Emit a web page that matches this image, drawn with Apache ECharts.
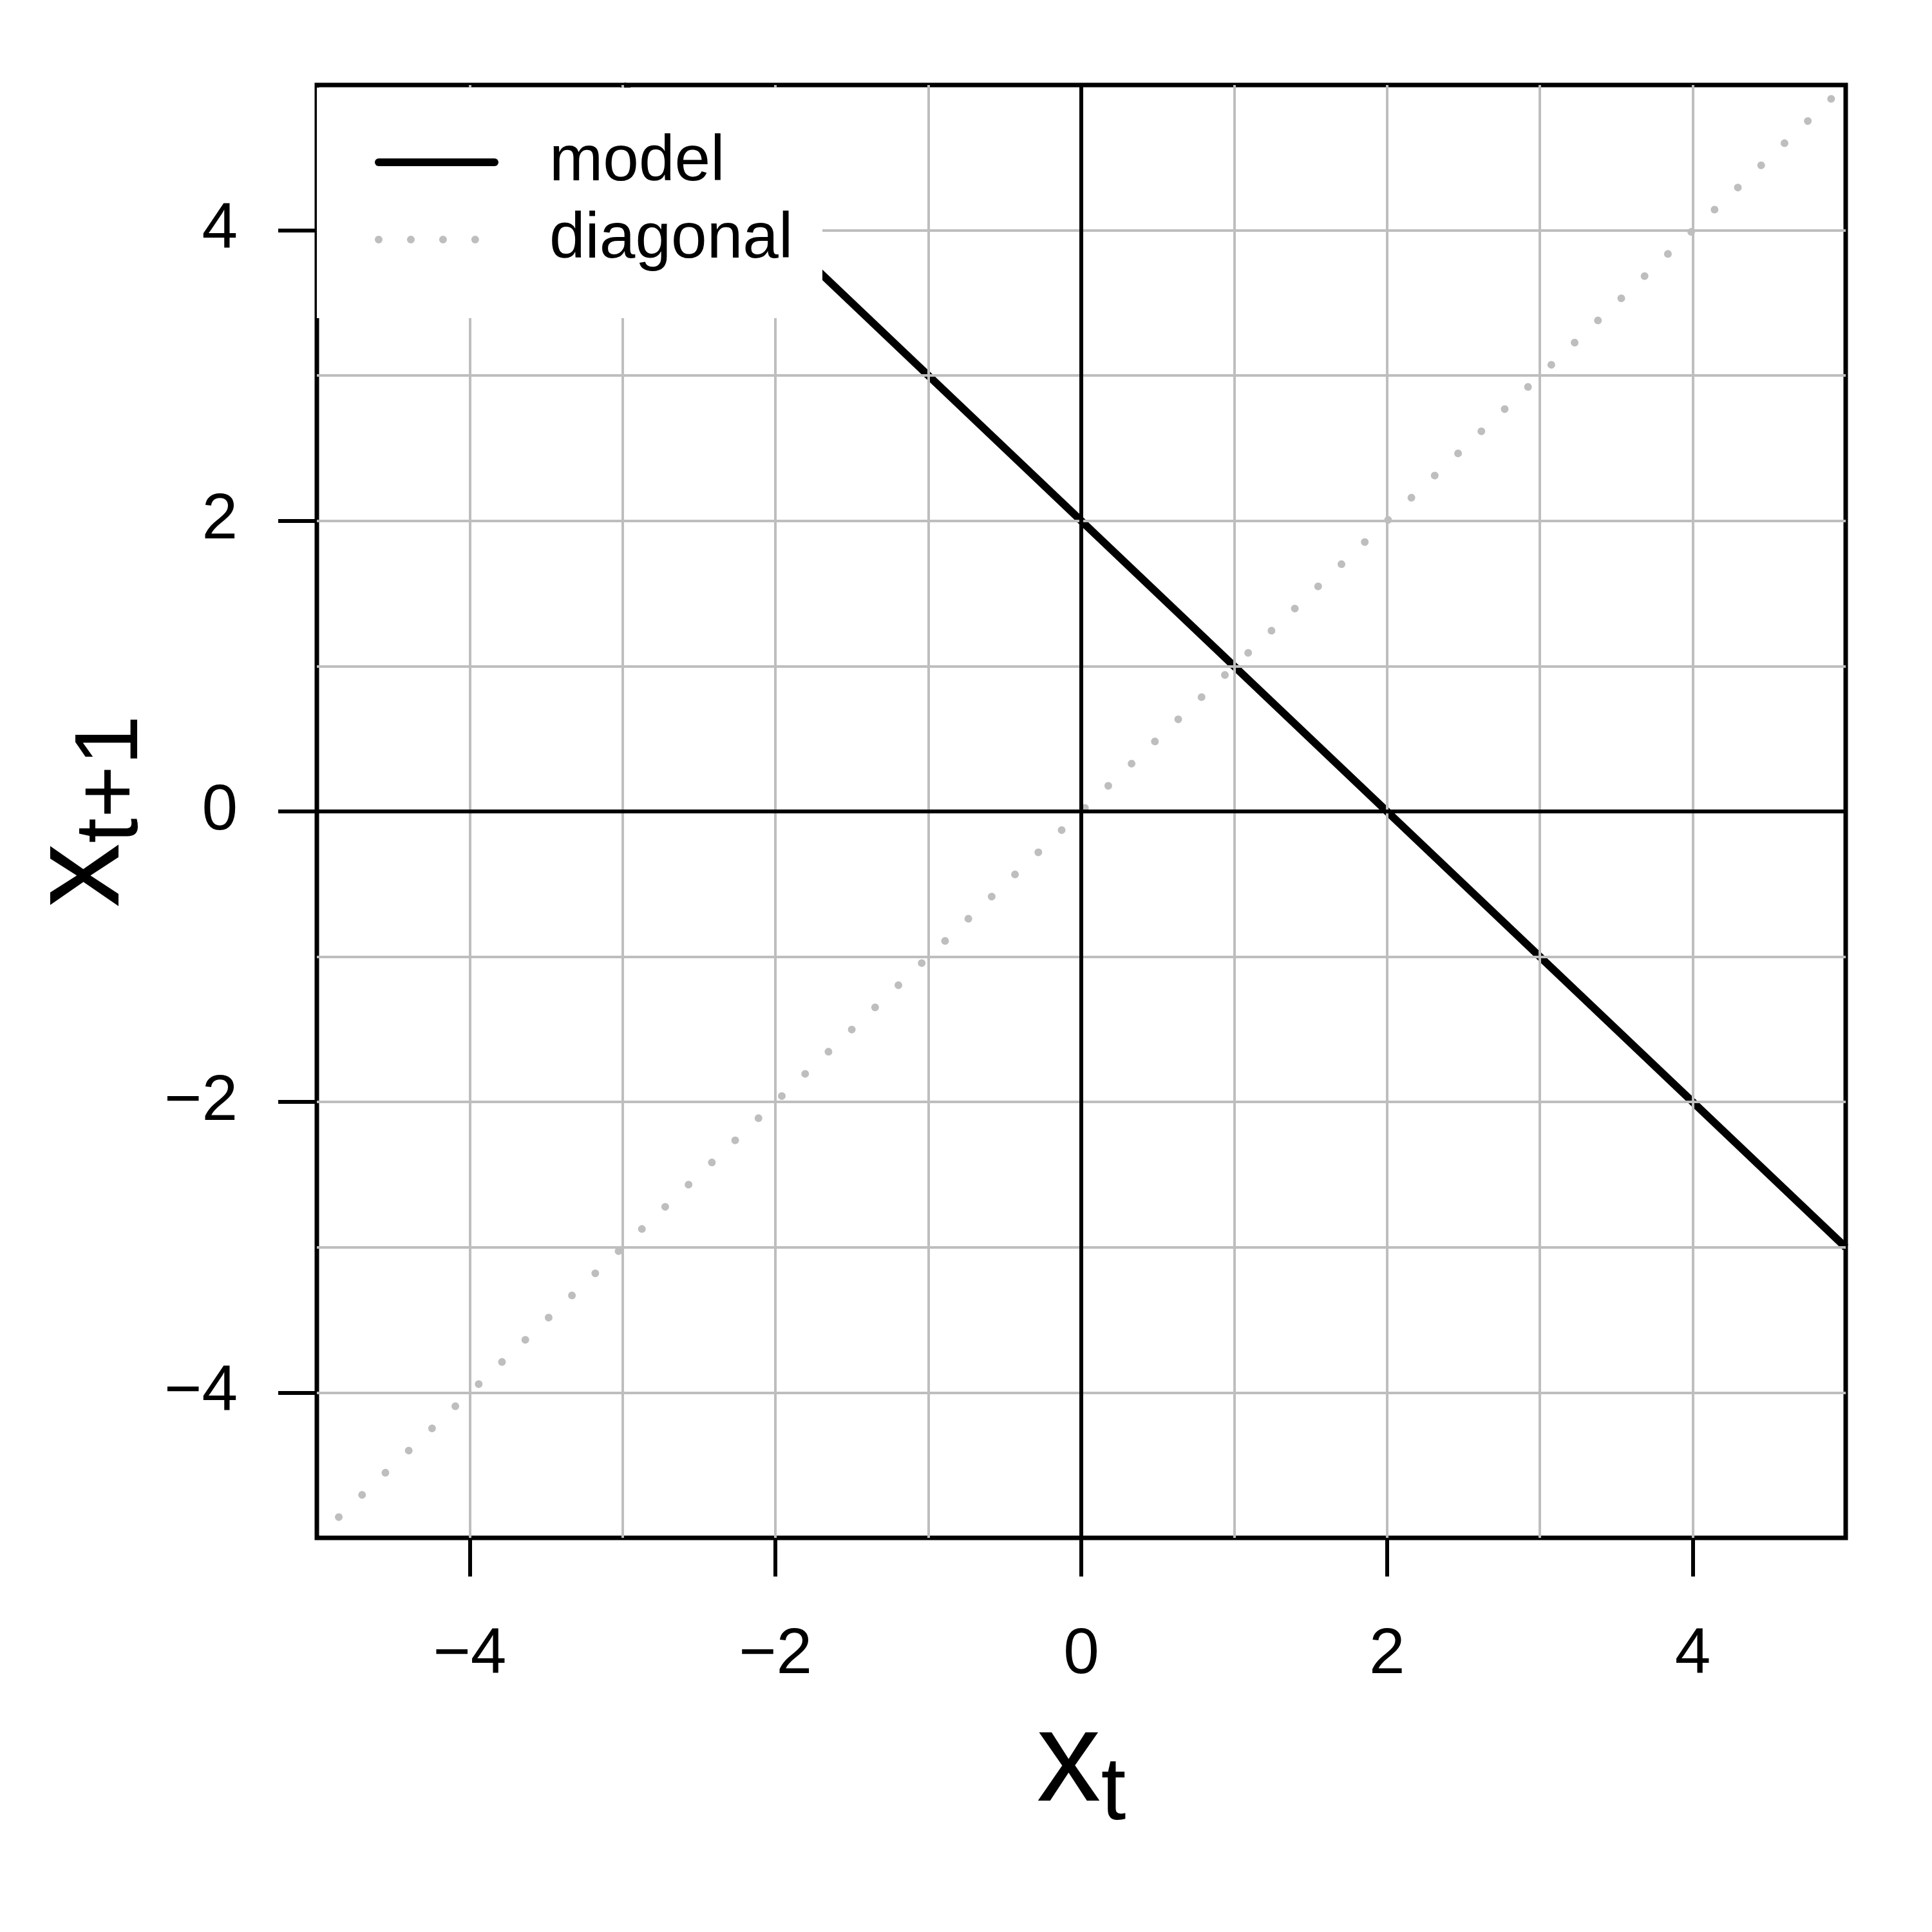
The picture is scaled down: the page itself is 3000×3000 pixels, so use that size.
<!DOCTYPE html>
<html>
<head>
<meta charset="utf-8">
<script src="https://cdn.jsdelivr.net/npm/echarts@6/dist/echarts.min.js"></script>
<style>html,body{margin:0;padding:0;background:#fff}#c{width:3000px;height:3000px}</style>
</head>
<body>
<div id="c"></div>
<script>
// ---- data ----
const xRange = [-5, 5];
const yRange = [-5, 5];
const gridStep = 1;
const tickValues = [-4, -2, 0, 2, 4];
const seriesNames = ['model', 'diagonal'];
const modelX = [-3, 5];
const modelY = [5, -3];
const diagX = [-5, 5];
const diagY = [-5, 5];
const zeroLines = [0];

// ---- chart ----
const FONT = '"Liberation Sans", Arial, Helvetica, sans-serif';
const chart = echarts.init(document.getElementById('c'), null, {renderer: 'canvas', width: 3000, height: 3000});
const minusFmt = v => String(v).replace('-', '\u2212');
const nameRich = {
  a: {fontSize: 200, lineHeight: 200, fontFamily: FONT, color: '#000', verticalAlign: 'top'},
  b: {fontSize: 140, lineHeight: 140, fontFamily: FONT, color: '#000', padding: [91, 0, 0, 0]}
};
const grid = {left: 492, top: 132, width: 2374, height: 2256};

function mainAxis(range, extra) {
  return Object.assign({
    type: 'value', min: range[0], max: range[1], interval: gridStep, z: 3,
    axisLine: {show: false, onZero: false},
    splitLine: {show: false},
    axisTick: {show: true, inside: false, length: 60, customValues: tickValues, lineStyle: {color: '#000', width: 6}},
    axisLabel: {show: true, customValues: tickValues, fontSize: 100, lineHeight: 100,
      fontFamily: FONT, color: '#000', formatter: minusFmt},
    nameLocation: 'middle', nameTextStyle: {rich: nameRich}
  }, extra);
}
function gridAxis(range) {
  return {
    type: 'value', min: range[0], max: range[1], interval: gridStep, z: 3,
    axisLine: {show: false, onZero: false}, axisTick: {show: false}, axisLabel: {show: false},
    splitLine: {show: true, showMinLine: false, showMaxLine: false, lineStyle: {color: '#bebebe', width: 4}}
  };
}
const xMain = mainAxis(xRange, {name: '{a|x}{b|t}', nameGap: 251});
xMain.axisLabel.margin = 132;
const yMain = mainAxis(yRange, {name: '{a|x}{b|t+1}', nameGap: 246, nameRotate: 90});
yMain.axisLabel.margin = 123;

const option = {
  animation: false,
  backgroundColor: '#fff',
  grid: Object.assign({show: true, borderColor: '#000', borderWidth: 7, backgroundColor: 'transparent'}, grid),
  xAxis: [xMain, Object.assign(gridAxis(xRange), {position: 'top'})],
  yAxis: [yMain, Object.assign(gridAxis(yRange), {position: 'right'})],
  legend: {
    show: true, orient: 'vertical', left: 582, top: 184, padding: 0,
    itemWidth: 180, itemHeight: 2, itemGap: -16, selectedMode: false, z: 6,
    data: [
      {name: seriesNames[0], lineStyle: {cap: 'round'}},
      {name: seriesNames[1], lineStyle: {dashOffset: 0}}
    ],
    lineStyle: {width: 12},
    itemStyle: {color: 'rgba(0,0,0,0)', borderColor: 'rgba(0,0,0,0)', borderWidth: 0},
    textStyle: {fontSize: 100, lineHeight: 100, fontFamily: FONT, color: '#000', padding: [36, 0, 0, 80]}
  },
  graphic: [{
    type: 'rect', z: 5, silent: true,
    shape: {x: 492, y: 136, width: 785, height: 358},
    style: {fill: '#fff'}
  }],
  series: [
    {
      name: seriesNames[0], type: 'line', z: 2, clip: true, symbol: 'none', silent: true,
      data: modelX.map((x, i) => [x, modelY[i]]),
      lineStyle: {color: '#000', width: 12, cap: 'butt'},
      itemStyle: {color: '#000'}
    },
    {
      name: seriesNames[1], type: 'line', z: 4, clip: true, symbol: 'none', silent: true,
      data: diagX.map((x, i) => [x, diagY[i]]),
      lineStyle: {color: '#bebebe', width: 12, type: [0.01, 49.94], cap: 'round', dashOffset: 3},
      itemStyle: {color: '#bebebe'}
    },
    {
      name: 'zero', type: 'line', z: 4, symbol: 'none', silent: true, data: [],
      markLine: {
        silent: true, symbol: 'none', animation: false, label: {show: false},
        lineStyle: {color: '#000', width: 6, type: 'solid'},
        data: [{xAxis: zeroLines[0]}, {yAxis: zeroLines[0]}]
      }
    }
  ]
};
chart.setOption(option);
</script>
</body>
</html>
